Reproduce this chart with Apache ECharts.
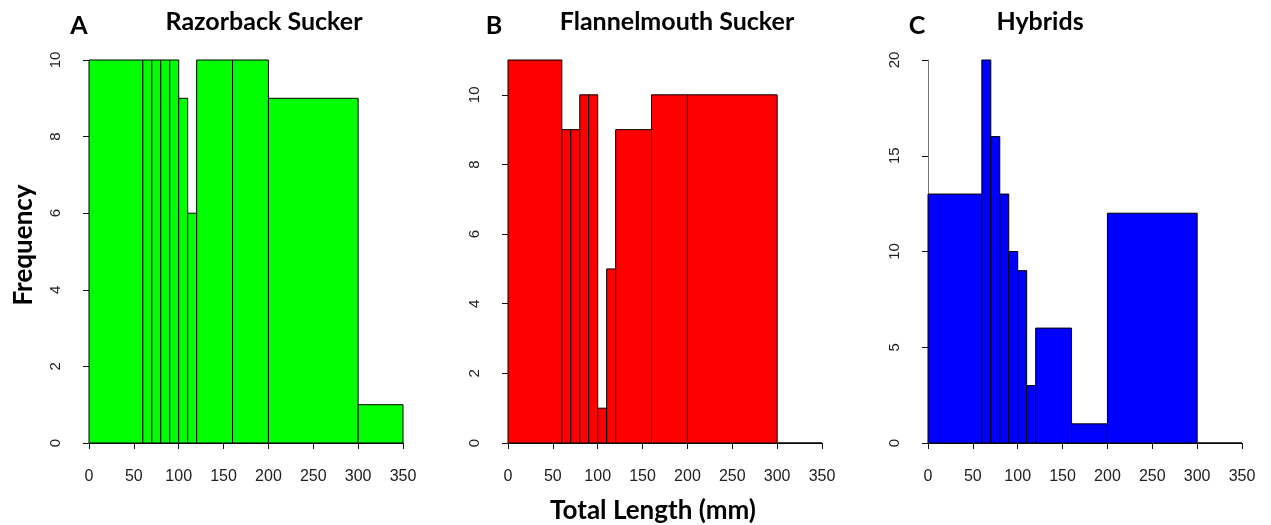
<!DOCTYPE html>
<html>
<head>
<meta charset="utf-8">
<title>Total length histograms</title>
<script src="https://cdn.jsdelivr.net/npm/echarts@6/dist/echarts.min.js"></script>
<style>
  html, body { margin: 0; padding: 0; background: #fff; }
  #chart { width: 1271px; height: 525px; }
</style>
</head>
<body>
<div id="chart"></div>
<script>
// bin edges (mm) shared by all three histograms
var binEdges = [0, 60, 70, 80, 90, 100, 110, 120, 160, 200, 300, 350];
var xTicks = [0, 50, 100, 150, 200, 250, 300, 350];

var razorbackCounts = [10, 10, 10, 10, 10, 9, 6, 10, 10, 9, 1];
var flannelmouthCounts = [11, 9, 9, 10, 10, 1, 5, 9, 10, 10, 0];
var hybridCounts = [13, 20, 16, 13, 10, 9, 3, 6, 1, 12, 0];

var panelLetters = ['A', 'B', 'C'];
var panelTitles = ['Razorback Sucker', 'Flannelmouth Sucker', 'Hybrids'];
var panelCounts = [razorbackCounts, flannelmouthCounts, hybridCounts];
var panelColors = ['#00ff00', '#ff0000', '#0000ff'];
var yDataMax = [10, 11, 20];   // top of the plotting range
var yAxisMax = [10, 10, 20];   // last labelled tick
var yInterval = [2, 2, 5];

// layout
var plotLefts = [89, 508, 928];
var plotTop = 60;
var plotWidth = 314;
var plotHeight = 383;
var letterX = [79, 494, 917];
var titleX = [264, 677, 1040];

var chart = echarts.init(document.getElementById('chart'));

var grids = [], xAxes = [], yAxes = [], series = [], graphics = [];

function binData(counts) {
  var out = [];
  for (var i = 0; i < counts.length; i++) {
    out.push([binEdges[i], binEdges[i + 1], counts[i]]);
  }
  return out;
}

for (var p = 0; p < 3; p++) {
  var dataGrid = grids.length;
  // data grid
  grids.push({left: plotLefts[p], top: plotTop, width: plotWidth, height: plotHeight});
  // grid used only for the labelled y axis (R stops the axis at its last tick)
  var axTop = plotTop + plotHeight * (1 - yAxisMax[p] / yDataMax[p]);
  grids.push({left: plotLefts[p], top: axTop, width: plotWidth, height: plotTop + plotHeight - axTop});

  xAxes.push({
    gridIndex: dataGrid, type: 'value', min: 0, max: 350, interval: 50,
    offset: 15,
    splitLine: {show: false},
    axisLine: {lineStyle: {color: '#111', width: 1}},
    axisTick: {length: 6, lineStyle: {color: '#111'}},
    axisLabel: {
      fontFamily: 'Liberation Sans', fontSize: 16, color: '#222', margin: 11,
      customValues: xTicks
    }
  });
  xAxes.push({gridIndex: dataGrid + 1, type: 'value', min: 0, max: 350, show: false});

  yAxes.push({gridIndex: dataGrid, type: 'value', min: 0, max: yDataMax[p], show: false});
  yAxes.push({
    gridIndex: dataGrid + 1, type: 'value', min: 0, max: yAxisMax[p], interval: yInterval[p],
    offset: 14,
    splitLine: {show: false},
    axisLine: {show: true, lineStyle: {color: '#777', width: 1}},
    axisTick: {show: true, length: 6, lineStyle: {color: '#111'}},
    axisLabel: {
      rotate: 90, fontFamily: 'Liberation Sans', fontSize: 15, color: '#222', margin: 12
    }
  });

  series.push({
    type: 'custom',
    xAxisIndex: dataGrid,
    yAxisIndex: dataGrid,
    data: binData(panelCounts[p]),
    renderItem: (function (color) {
      return function (params, api) {
        var topLeft = api.coord([api.value(0), api.value(2)]);
        var bottomRight = api.coord([api.value(1), 0]);
        return {
          type: 'rect',
          shape: {
            x: topLeft[0], y: topLeft[1],
            width: bottomRight[0] - topLeft[0],
            height: bottomRight[1] - topLeft[1]
          },
          style: {fill: color, stroke: '#000', lineWidth: 1}
        };
      };
    })(panelColors[p])
  });

  graphics.push({
    type: 'text', x: letterX[p], y: 26,
    style: {text: panelLetters[p], fontFamily: 'Lato', fontWeight: 'bold', fontSize: 25,
            fill: '#000', align: 'center', verticalAlign: 'middle'}
  });
  graphics.push({
    type: 'text', x: titleX[p], y: 22,
    style: {text: panelTitles[p], fontFamily: 'Lato', fontWeight: 'bold', fontSize: 25,
            fill: '#000', align: 'center', verticalAlign: 'middle'}
  });
}

graphics.push({
  type: 'text', x: 24, y: 245, rotation: Math.PI / 2,
  style: {text: 'Frequency', fontFamily: 'Lato', fontWeight: 'bold', fontSize: 26,
          fill: '#000', align: 'center', verticalAlign: 'middle'}
});
graphics.push({
  type: 'text', x: 653, y: 511,
  style: {text: 'Total Length (mm)', fontFamily: 'Lato', fontWeight: 'bold', fontSize: 26,
          fill: '#000', align: 'center', verticalAlign: 'middle'}
});

chart.setOption({
  animation: false,
  backgroundColor: '#fff',
  grid: grids,
  xAxis: xAxes,
  yAxis: yAxes,
  series: series,
  graphic: graphics
});
</script>
</body>
</html>
